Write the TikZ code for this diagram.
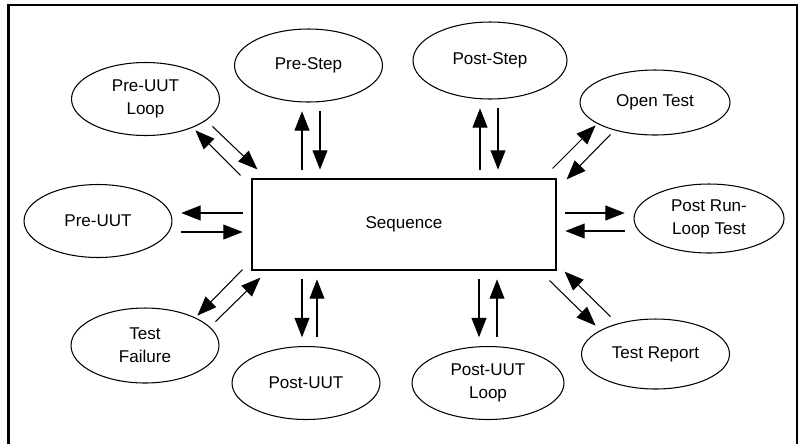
\documentclass[tikz,border=0pt]{standalone}
\usepackage{fontspec}
\setmainfont{Liberation Sans}
\usetikzlibrary{arrows.meta, calc, shapes.geometric}

\tikzset{
  oval/.style={ellipse, draw, line width=0.6pt, inner sep=0pt, align=center,
    minimum width=2.96cm, minimum height=1.46cm},
  flow/.style={line width=0.6pt, -{Triangle[length=11pt, width=8.5pt]}},
  gap/.style={shorten <=5pt, shorten >=5pt}
}

\begin{document}
\begin{tikzpicture}[x=0.02cm, y=-0.02cm, font=\fontsize{9.7}{13}\selectfont]
  \useasboundingbox (0,0) rectangle (800,444);
  \draw[line width=1.5pt] (8.3,444) -- (8.3,5) -- (797,5) -- (797,444);

  \node[draw, line width=0.7pt, minimum width=6.08cm, minimum height=1.82cm] (seq) at (404,224.5) {Sequence};

  \node[oval] (preuutloop) at (145.5,99) {Pre-UUT\\Loop};
  \node[oval] (prestep) at (308.5,65.5) {Pre-Step};
  \node[oval, minimum width=3.08cm, minimum height=1.54cm] (poststep) at (490,60.5) {Post-Step};
  \node[oval, minimum width=3cm, minimum height=1.3cm] (opentest) at (655,102.5) {Open Test};
  \node[oval, minimum width=3cm, minimum height=1.38cm] (postrun) at (709,218.5) {Post Run-\\Loop Test};
  \node[oval] (preuut) at (98,221) {Pre-UUT};
  \node[oval, minimum height=1.5cm] (testfail) at (145,345.5) {Test\\Failure};
  \node[oval] (postuut) at (306,383) {Post-UUT};
  \node[oval, minimum width=3.04cm] (postuutloop) at (488,383) {Post-UUT\\Loop};
  \node[oval, minimum height=1.4cm] (testreport) at (655.5,354) {Test Report};

  % up and down
  \draw[flow, gap] (seq.north -| 302,0) -- (prestep.south -| 302,0);
  \draw[flow, gap] (prestep.south -| 320,0) -- (seq.north -| 320,0);
  \draw[flow, gap] (seq.north -| 480,0) -- (poststep.south -| 480,0);
  \draw[flow, gap] (poststep.south -| 498,0) -- (seq.north -| 498,0);
  \draw[flow, gap] (seq.south -| 302,0) -- (postuut.north -| 302,0);
  \draw[flow, gap] (postuut.north -| 317,0) -- (seq.south -| 317,0);
  \draw[flow, gap] (seq.south -| 479,0) -- (postuutloop.north -| 479,0);
  \draw[flow, gap] (postuutloop.north -| 497,0) -- (seq.south -| 497,0);

  % left and right
  \draw[flow, gap] (seq.west |- 0,213) -- (preuut.east |- 0,213);
  \draw[flow, gap] (preuut.east |- 0,232) -- (seq.west |- 0,232);
  \draw[flow, gap] (seq.east |- 0,213) -- (postrun.west |- 0,213);
  \draw[flow, gap] (postrun.west |- 0,231) -- (seq.east |- 0,231);

  % corners
  \draw[flow] ($(seq.north west)+(-39,-52)$) -- ($(seq.north west)+(6,-9)$);
  \draw[flow] ($(seq.north west)+(-11,-3)$) -- ($(seq.north west)+(-56,-48)$);
  \draw[flow] ($(seq.north east)+(-4,-10)$) -- ($(seq.north east)+(39,-53)$);
  \draw[flow] ($(seq.north east)+(54,-44)$) -- ($(seq.north east)+(10,1)$);
  \draw[flow] ($(seq.south east)+(-7,10)$) -- ($(seq.south east)+(39,55)$);
  \draw[flow] ($(seq.south east)+(54,46)$) -- ($(seq.south east)+(8,1)$);
  \draw[flow] ($(seq.south west)+(-9,-1)$) -- ($(seq.south west)+(-54,45)$);
  \draw[flow] ($(seq.south west)+(-36,51)$) -- ($(seq.south west)+(9,7)$);
\end{tikzpicture}
\end{document}
